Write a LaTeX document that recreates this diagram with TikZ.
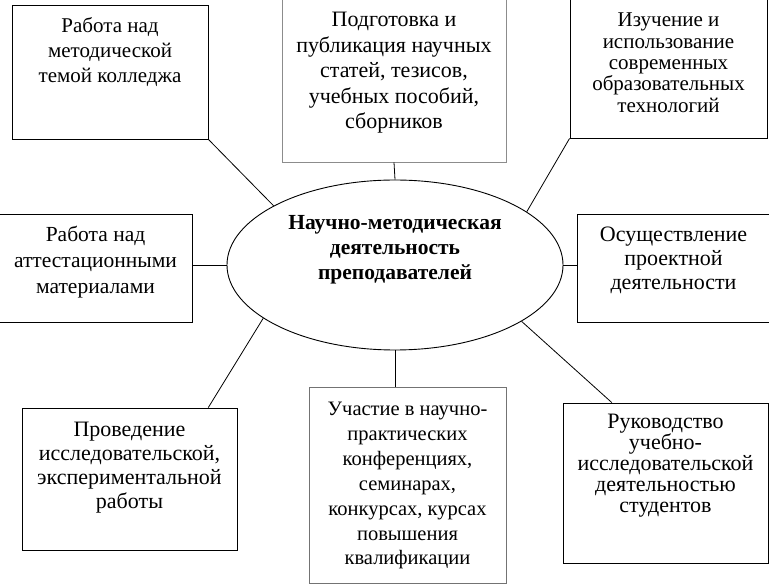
\documentclass[tikz,border=0pt]{standalone}
\usepackage{fontspec}
\setmainfont{Liberation Serif}
\usetikzlibrary{shapes.geometric,calc}
\tikzset{
  boxnode/.style={draw=black, line width=0.9pt, inner sep=0pt, rectangle},
  graybox/.style={boxnode, draw=black!45},
  hubnode/.style={draw=black, line width=0.9pt, ellipse, inner sep=0pt},
  conn/.style={draw=black, line width=0.8pt}
}
% \bx{width}{height}{first baseline}{fontsize}{baselineskip}{text}
\newcommand{\bx}[6]{\parbox[c][#2pt][t]{#1pt}{\centering\fontsize{#4}{#5}\selectfont\rule{0pt}{#3pt}#6\par}}
\begin{document}
\begin{tikzpicture}[x=1pt,y=-1pt]
\useasboundingbox (0,0) rectangle (769,585);
% hub
\node[hubnode] (e) at (395,265)
  {\parbox[c][120.2pt][t]{237.6pt}{\centering\fontsize{21.5}{25}\selectfont\bfseries\rule{0pt}{25pt}Научно-методическая\\ деятельность\\ преподавателей\par}};
% boxes
\node[boxnode] (b1) at (110,72) {\bx{196}{134}{28}{21}{25}{Работа над\\ методической\\ темой колледжа}};
\node[graybox] (b2) at (394,80.5) {\bx{224}{163}{28}{22}{25.4}{Подготовка и\\ публикация научных\\ статей, тезисов,\\ учебных пособий,\\ сборников}};
\node[boxnode] (b3) at (668.5,68.5) {\bx{197}{139}{28}{21}{21.3}{Изучение и\\ использование\\ современных\\ образовательных\\ технологий}};
\node[boxnode] (b4) at (95.5,268) {\bx{193}{108}{28}{21.5}{25.7}{Работа над\\ аттестационными\\ материалами}};
\node[boxnode] (b5) at (673.5,268) {\bx{193}{108}{28}{22}{24}{Осуществление\\ проектной\\ деятельности}};
\node[boxnode] (b6) at (129.5,479) {\bx{215}{142}{29}{22}{23.8}{Проведение\\ исследовательской,\\ экспериментальной\\ работы}};
\node[graybox, draw=black!55] (b7) at (407.5,485) {\bx{197}{196}{28}{20.5}{25}{Участие в научно-\\ практических\\ конференциях,\\ семинарах,\\ конкурсах, курсах\\ повышения\\ квалификации}};
\node[boxnode] (b8) at (665.5,483) {\bx{205}{160}{25}{22}{21.2}{Руководство\\ учебно-\\ исследовательской\\ деятельностью\\ студентов}};
% connectors
\draw[conn] (b1.south east) -- (e.154.6);
\draw[conn] (b2.south) -- (e.north);
\draw[conn] (b3.south west) -- (e.22.3);
\draw[conn] (e.west) -- (e.west -| b4.east);
\draw[conn] (e.east) -- (e.east -| b5.west);
\draw[conn] (e.202.9) -- ($(b6.north west)!0.865!(b6.north east)$);
\draw[conn] (e.south) -- (e.south |- b7.north);
\draw[conn] (e.-24.2) -- ($(b8.north west)!0.239!(b8.north east)$);
\end{tikzpicture}
\end{document}
